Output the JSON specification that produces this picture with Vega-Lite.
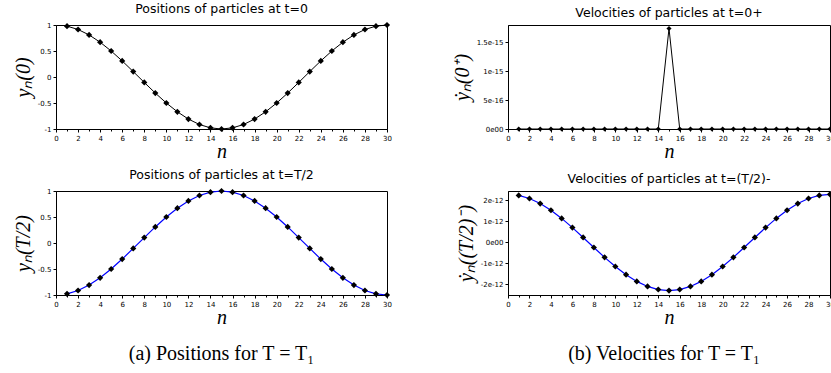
{
  "$schema": "https://vega.github.io/schema/vega-lite/v6.json",
  "background": "white",
  "padding": {"left": 12, "top": 2, "right": 0, "bottom": 0},
  "datasets": {
    "pos0": [
      {"n": 1, "y": 0.9781}, {"n": 2, "y": 0.9135}, {"n": 3, "y": 0.809}, {"n": 4, "y": 0.6691}, {"n": 5, "y": 0.5},
      {"n": 6, "y": 0.309}, {"n": 7, "y": 0.1045}, {"n": 8, "y": -0.1045}, {"n": 9, "y": -0.309}, {"n": 10, "y": -0.5},
      {"n": 11, "y": -0.6691}, {"n": 12, "y": -0.809}, {"n": 13, "y": -0.9135}, {"n": 14, "y": -0.9781}, {"n": 15, "y": -1},
      {"n": 16, "y": -0.9781}, {"n": 17, "y": -0.9135}, {"n": 18, "y": -0.809}, {"n": 19, "y": -0.6691}, {"n": 20, "y": -0.5},
      {"n": 21, "y": -0.309}, {"n": 22, "y": -0.1045}, {"n": 23, "y": 0.1045}, {"n": 24, "y": 0.309}, {"n": 25, "y": 0.5},
      {"n": 26, "y": 0.6691}, {"n": 27, "y": 0.809}, {"n": 28, "y": 0.9135}, {"n": 29, "y": 0.9781}, {"n": 30, "y": 1}
    ],
    "posT": [
      {"n": 1, "y": -0.9781}, {"n": 2, "y": -0.9135}, {"n": 3, "y": -0.809}, {"n": 4, "y": -0.6691}, {"n": 5, "y": -0.5},
      {"n": 6, "y": -0.309}, {"n": 7, "y": -0.1045}, {"n": 8, "y": 0.1045}, {"n": 9, "y": 0.309}, {"n": 10, "y": 0.5},
      {"n": 11, "y": 0.6691}, {"n": 12, "y": 0.809}, {"n": 13, "y": 0.9135}, {"n": 14, "y": 0.9781}, {"n": 15, "y": 1},
      {"n": 16, "y": 0.9781}, {"n": 17, "y": 0.9135}, {"n": 18, "y": 0.809}, {"n": 19, "y": 0.6691}, {"n": 20, "y": 0.5},
      {"n": 21, "y": 0.309}, {"n": 22, "y": 0.1045}, {"n": 23, "y": -0.1045}, {"n": 24, "y": -0.309}, {"n": 25, "y": -0.5},
      {"n": 26, "y": -0.6691}, {"n": 27, "y": -0.809}, {"n": 28, "y": -0.9135}, {"n": 29, "y": -0.9781}, {"n": 30, "y": -1}
    ],
    "vel0": [
      {"n": 1, "y": 0}, {"n": 2, "y": 0}, {"n": 3, "y": 0}, {"n": 4, "y": 0}, {"n": 5, "y": 0},
      {"n": 6, "y": 0}, {"n": 7, "y": 0}, {"n": 8, "y": 0}, {"n": 9, "y": 0}, {"n": 10, "y": 0},
      {"n": 11, "y": 0}, {"n": 12, "y": 0}, {"n": 13, "y": 0}, {"n": 14, "y": 0}, {"n": 15, "y": 1.74e-15},
      {"n": 16, "y": 0}, {"n": 17, "y": 0}, {"n": 18, "y": 0}, {"n": 19, "y": 0}, {"n": 20, "y": 0},
      {"n": 21, "y": 0}, {"n": 22, "y": 0}, {"n": 23, "y": 0}, {"n": 24, "y": 0}, {"n": 25, "y": 0},
      {"n": 26, "y": 0}, {"n": 27, "y": 0}, {"n": 28, "y": 0}, {"n": 29, "y": 0}, {"n": 30, "y": 0}
    ],
    "velT": [
      {"n": 1, "y": 2.24e-12}, {"n": 2, "y": 2.092e-12}, {"n": 3, "y": 1.853e-12}, {"n": 4, "y": 1.532e-12}, {"n": 5, "y": 1.145e-12},
      {"n": 6, "y": 0.708e-12}, {"n": 7, "y": 0.239e-12}, {"n": 8, "y": -0.239e-12}, {"n": 9, "y": -0.708e-12}, {"n": 10, "y": -1.145e-12},
      {"n": 11, "y": -1.532e-12}, {"n": 12, "y": -1.853e-12}, {"n": 13, "y": -2.092e-12}, {"n": 14, "y": -2.24e-12}, {"n": 15, "y": -2.29e-12},
      {"n": 16, "y": -2.24e-12}, {"n": 17, "y": -2.092e-12}, {"n": 18, "y": -1.853e-12}, {"n": 19, "y": -1.532e-12}, {"n": 20, "y": -1.145e-12},
      {"n": 21, "y": -0.708e-12}, {"n": 22, "y": -0.239e-12}, {"n": 23, "y": 0.239e-12}, {"n": 24, "y": 0.708e-12}, {"n": 25, "y": 1.145e-12},
      {"n": 26, "y": 1.532e-12}, {"n": 27, "y": 1.853e-12}, {"n": 28, "y": 2.092e-12}, {"n": 29, "y": 2.24e-12}, {"n": 30, "y": 2.29e-12}
    ]
  },
  "columns": 2,
  "spacing": {"row": 62, "column": 121},
  "bounds": "flush",
  "concat": [
    {
      "width": 331, "height": 104,
      "title": {"text": "Positions of particles at t=0"},
      "data": {"name": "pos0"},
      "encoding": {
        "x": {"field": "n", "type": "quantitative", "scale": {"domain": [0, 30], "nice": false},
          "axis": {"title": "n", "values": [0,1,2,3,4,5,6,7,8,9,10,11,12,13,14,15,16,17,18,19,20,21,22,23,24,25,26,27,28,29,30],
            "labelExpr": "datum.value % 2 === 0 ? datum.label : ''",
            "tickSize": {"condition": {"test": "datum.value % 2 === 0", "value": 3}, "value": 2}}},
        "y": {"field": "y", "type": "quantitative", "scale": {"domain": [-1, 1], "nice": false, "zero": false},
          "axis": {"title": "yₙ(0)", "values": [-1, -0.5, 0, 0.5, 1],
            "labelExpr": "(datum.value < 0 ? '-' : '') + format(abs(datum.value), '')"}}
      },
      "layer": [
        {"mark": {"type": "line", "color": "black", "strokeWidth": 1}},
        {"mark": {"type": "point", "shape": "diamond", "filled": true, "color": "black", "size": 38, "opacity": 1}}
      ]
    },
    {
      "width": 322, "height": 104,
      "title": {"text": "Velocities of particles at t=0+"},
      "data": {"name": "vel0"},
      "encoding": {
        "x": {"field": "n", "type": "quantitative", "scale": {"domain": [0, 30], "nice": false},
          "axis": {"title": "n", "values": [0,1,2,3,4,5,6,7,8,9,10,11,12,13,14,15,16,17,18,19,20,21,22,23,24,25,26,27,28,29,30],
            "labelExpr": "datum.value % 2 === 0 ? datum.label : ''",
            "tickSize": {"condition": {"test": "datum.value % 2 === 0", "value": 3}, "value": 2}}},
        "y": {"field": "y", "type": "quantitative", "scale": {"domain": [0, 1.8e-15], "nice": false},
          "axis": {"title": "ẏₙ(0⁺)", "values": [0, 5e-16, 1e-15, 1.5e-15],
            "labelExpr": "datum.value === 0 ? '0e00' : datum.value < 7e-16 ? '5e-16' : datum.value < 1.2e-15 ? '1e-15' : '1.5e-15'"}}
      },
      "layer": [
        {"mark": {"type": "line", "color": "black", "strokeWidth": 1}},
        {"mark": {"type": "point", "shape": "diamond", "filled": true, "color": "black", "size": 26, "opacity": 1}}
      ]
    },
    {
      "width": 331, "height": 104,
      "title": {"text": "Positions of particles at t=T/2"},
      "data": {"name": "posT"},
      "encoding": {
        "x": {"field": "n", "type": "quantitative", "scale": {"domain": [0, 30], "nice": false},
          "axis": {"title": "n", "values": [0,1,2,3,4,5,6,7,8,9,10,11,12,13,14,15,16,17,18,19,20,21,22,23,24,25,26,27,28,29,30],
            "labelExpr": "datum.value % 2 === 0 ? datum.label : ''",
            "tickSize": {"condition": {"test": "datum.value % 2 === 0", "value": 3}, "value": 2}}},
        "y": {"field": "y", "type": "quantitative", "scale": {"domain": [-1, 1], "nice": false, "zero": false},
          "axis": {"title": "yₙ(T/2)", "values": [-1, -0.5, 0, 0.5, 1],
            "labelExpr": "(datum.value < 0 ? '-' : '') + format(abs(datum.value), '')"}}
      },
      "layer": [
        {"mark": {"type": "line", "color": "#0000ff", "strokeWidth": 1.2}},
        {"mark": {"type": "point", "shape": "diamond", "filled": true, "color": "black", "size": 38, "opacity": 1}}
      ]
    },
    {
      "width": 322, "height": 104,
      "title": {"text": "Velocities of particles at t=(T/2)-"},
      "data": {"name": "velT"},
      "encoding": {
        "x": {"field": "n", "type": "quantitative", "scale": {"domain": [0, 30], "nice": false},
          "axis": {"title": "n", "values": [0,1,2,3,4,5,6,7,8,9,10,11,12,13,14,15,16,17,18,19,20,21,22,23,24,25,26,27,28,29,30],
            "labelExpr": "datum.value % 2 === 0 ? datum.label : ''",
            "tickSize": {"condition": {"test": "datum.value % 2 === 0", "value": 3}, "value": 2}}},
        "y": {"field": "y", "type": "quantitative", "scale": {"domain": [-2.5e-12, 2.45e-12], "nice": false, "zero": false},
          "axis": {"title": "ẏₙ((T/2)⁻)", "values": [-2e-12, -1e-12, 0, 1e-12, 2e-12],
            "labelExpr": "datum.value === 0 ? '0e00' : (datum.value < 0 ? '-' : '') + (abs(datum.value) > 1.5e-12 ? '2' : '1') + 'e-12'"}}
      },
      "layer": [
        {"mark": {"type": "line", "color": "#0000ff", "strokeWidth": 1.2}},
        {"mark": {"type": "point", "shape": "diamond", "filled": true, "color": "black", "size": 38, "opacity": 1}}
      ]
    },
    {
      "width": 331, "height": 2,
      "view": {"stroke": null},
      "data": {"values": [{"caption": "(a) Positions for T = T₁"}]},
      "mark": {"type": "text", "font": "Liberation Serif", "fontSize": 20, "baseline": "alphabetic", "align": "center", "color": "black", "dy": 2},
      "encoding": {"text": {"field": "caption"}}
    },
    {
      "width": 322, "height": 2,
      "view": {"stroke": null},
      "data": {"values": [{"caption": "(b) Velocities for T = T₁"}]},
      "mark": {"type": "text", "font": "Liberation Serif", "fontSize": 20, "baseline": "alphabetic", "align": "center", "color": "black", "dy": 2, "dx": -5},
      "encoding": {"text": {"field": "caption"}}
    }
  ],
  "config": {
    "view": {"stroke": "black", "strokeWidth": 1},
    "title": {"font": "DejaVu Sans", "fontSize": 12.5, "fontWeight": "normal", "color": "black", "offset": 6},
    "axis": {
      "grid": false,
      "domainColor": "black",
      "tickColor": "black",
      "tickSize": 3,
      "labelColor": "black",
      "labelFont": "DejaVu Sans",
      "labelFontSize": 7,
      "labelPadding": 2,
      "labelFlush": false,
      "labelOverlap": false,
      "titleFont": "Liberation Serif",
      "titleFontStyle": "italic",
      "titleFontWeight": "normal",
      "titleFontSize": 20,
      "titleColor": "black"
    },
    "axisX": {"titlePadding": 0},
    "axisY": {"titlePadding": 4}
  }
}
